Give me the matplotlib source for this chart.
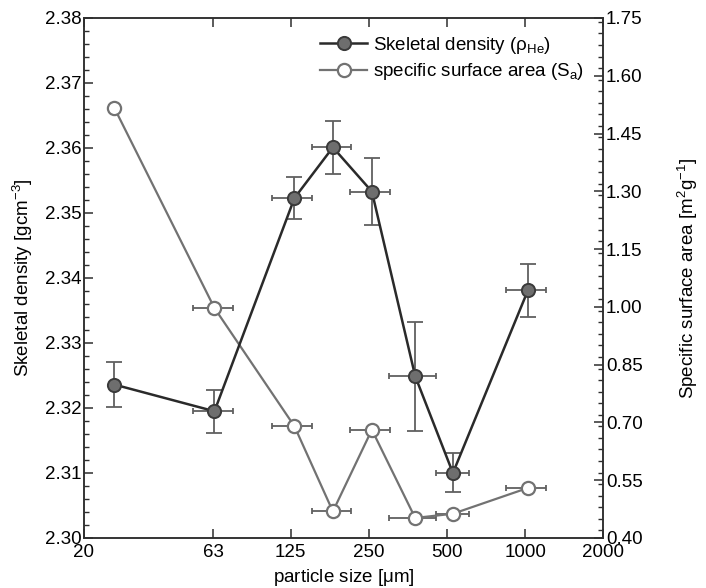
import matplotlib
matplotlib.use("Agg")
import matplotlib.pyplot as plt
import numpy as np
from matplotlib.ticker import FixedLocator, FixedFormatter, MultipleLocator, NullLocator

plt.rcParams['font.family'] = ['Liberation Sans', 'DejaVu Sans']
plt.rcParams['mathtext.fontset'] = 'custom'
plt.rcParams['mathtext.rm'] = 'Liberation Sans'
plt.rcParams['mathtext.it'] = 'Liberation Sans:italic'
plt.rcParams['mathtext.default'] = 'regular'

# particle size classes (um) and the sieve range of each class
size = [26.2, 63.6, 129.3, 181.8, 256.9, 377.2, 527.0, 1025.0]
size_lo = [26.2, 52.8, 105.8, 150.8, 211.9, 300.2, 454.6, 845.6]
size_hi = [26.2, 75.2, 150.8, 213.3, 302.1, 454.6, 605.3, 1206.0]

# skeletal density (He pycnometry) and its error
density = [2.3236, 2.3195, 2.3523, 2.3601, 2.3533, 2.3249, 2.3100, 2.3381]
density_err = [0.0034, 0.0033, 0.0033, 0.0041, 0.0052, 0.0084, 0.0030, 0.0041]

# specific surface area (m2/g)
ssa = [1.516, 0.997, 0.690, 0.469, 0.681, 0.452, 0.463, 0.530]

xticks = [20, 63, 125, 250, 500, 1000, 2000]

fs = 13.5
axis_col = '#2e2e2e'
dark = '#2a2a2a'
grey = '#727272'
err_col = '#606060'

x = np.array(size)
xerr = np.array([x - np.array(size_lo), np.array(size_hi) - x])

fig = plt.figure(figsize=(7.06, 5.88), dpi=100)
ax = fig.add_axes([84 / 706, 1 - 538 / 588, 519.3 / 706, 520 / 588])
ax2 = ax.twinx()
ax.set_zorder(ax2.get_zorder() + 1)
ax.patch.set_visible(False)

# surface area on the right axis
ax2.errorbar(x, ssa, xerr=xerr, fmt='none', ecolor=err_col, elinewidth=1.3,
             capsize=2.5, capthick=1.3, zorder=2)
ax2.plot(x, ssa, '-o', color=grey, lw=1.6, ms=9.5, mfc='white', mec=grey,
         mew=1.6, zorder=3)

# density on the left axis
ax.errorbar(x, density, yerr=density_err, fmt='none', ecolor=err_col,
            elinewidth=1.3, capsize=5.5, capthick=1.3, zorder=2)
ax.errorbar(x, density, xerr=xerr, fmt='none', ecolor=err_col,
            elinewidth=1.3, capsize=2.5, capthick=1.3, zorder=2)
ax.plot(x, density, '-o', color=dark, lw=1.8, ms=9.5, mfc='#6e6e6e',
        mec='#3a3a3a', mew=1.4, zorder=3)

# legend handles
h1, = ax.plot([], [], '-o', color=dark, lw=1.8, ms=9.5, mfc='#6e6e6e',
              mec='#3a3a3a', mew=1.4)
h2, = ax.plot([], [], '-o', color=grey, lw=1.6, ms=9.5, mfc='white',
              mec=grey, mew=1.6)
ax.legend([h1, h2], [r'Skeletal density ($\rho_{He}$)',
                     r'specific surface area ($S_a$)'],
          loc='upper left', bbox_to_anchor=(0.455, 0.968), frameon=False,
          fontsize=fs, borderpad=0, borderaxespad=0, handlelength=2.5,
          handletextpad=0.3, labelspacing=0.3)

ax.set_xscale('log')
ax.set_xlim(20, 2000)
ax.xaxis.set_major_locator(FixedLocator(xticks))
ax.xaxis.set_major_formatter(FixedFormatter([str(t) for t in xticks]))
ax.xaxis.set_minor_locator(NullLocator())

ax.set_ylim(2.30, 2.38)
ax.yaxis.set_major_locator(MultipleLocator(0.01))
ax.yaxis.set_minor_locator(MultipleLocator(0.002))
ax.yaxis.set_major_formatter(plt.FormatStrFormatter('%.2f'))

ax2.set_ylim(0.40, 1.75)
ax2.yaxis.set_major_locator(FixedLocator(np.arange(0.40, 1.76, 0.15)))
ax2.yaxis.set_minor_locator(MultipleLocator(0.03))
ax2.yaxis.set_major_formatter(plt.FormatStrFormatter('%.2f'))

for a in (ax, ax2):
    for s in a.spines.values():
        s.set_linewidth(1.1)
        s.set_color(axis_col)
    a.tick_params(which='major', direction='in', length=6.5, width=1.1,
                  color=axis_col, labelsize=fs, pad=2)
    a.tick_params(which='minor', direction='in', length=3.5, width=1.0,
                  color=axis_col)
ax.tick_params(axis='x', top=True, bottom=True, pad=4)
ax.tick_params(axis='y', right=False)

ax.set_xlabel(r'particle size [$\mu$m]', fontsize=fs, labelpad=5)
ax.set_ylabel(r'Skeletal density [gcm$^{-3}$]', fontsize=fs, labelpad=7)
ax2.set_ylabel(r'Specific surface area [m$^{2}$g$^{-1}$]', fontsize=fs,
               labelpad=24)

fig.savefig('out.png', dpi=100)
